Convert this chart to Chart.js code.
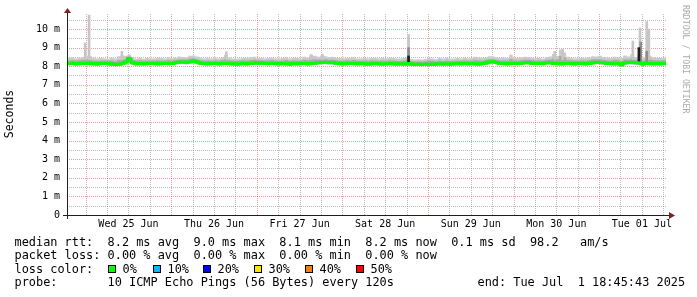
<!DOCTYPE html>
<html>
<head>
<meta charset="utf-8">
<script src="https://cdn.jsdelivr.net/npm/chart.js@4.4.1/dist/chart.umd.min.js"></script>
<style>
    body { margin: 0; background: #fff; }
    #marco { position: relative; width: 697px; height: 297px; font-family: "DejaVu Sans Mono", monospace; color: #000; }
    #grafico { position: absolute; left: 0; top: 0; }
    .linea { position: absolute; left: 14.5px; font-size: 11.9px; line-height: 14px; white-space: pre; }
    .caja { position: absolute; top: 265px; width: 6px; height: 6px; border: 1px solid #000; }
    #firma { position: absolute; left: 681px; top: 5px; writing-mode: vertical-rl; font-size: 8.2px; line-height: 10px; color: #aaa; white-space: pre; }
</style>
</head>
<body>
<div id="marco">
    <canvas id="grafico" width="697" height="297"></canvas>
    <div id="firma">RRDTOOL / TOBI OETIKER</div>
    <div class="linea" style="top:234.6px">median rtt:  8.2 ms avg  9.0 ms max  8.1 ms min  8.2 ms now  0.1 ms sd  98.2   am/s</div>
    <div class="linea" style="top:247.9px">packet loss: 0.00 % avg  0.00 % max  0.00 % min  0.00 % now</div>
    <div class="linea" style="top:261.6px">loss color:</div>
    <div id="perdidas"></div>
    <div class="linea" style="top:275px">probe:       10 ICMP Echo Pings (56 Bytes) every 120s</div>
    <div class="linea" style="top:275px;left:477.5px">end: Tue Jul  1 18:45:43 2025</div>
</div>
<script>
// eje x en horas desde Tue Jun 24 18:45:43 hasta Tue Jul 1 18:45:43 (168 h), una muestra por hora
const PASO = 1;

// mediana (ms)
const mediana = [
    8.14, 8.15, 8.13, 8.14, 8.15, 8.16, 8.15, 8.14, 8.13, 8.14, 8.15, 8.14,
    8.12, 8.09, 8.11, 8.14, 8.22, 8.40, 8.18, 8.13, 8.14, 8.13, 8.14, 8.15,
    8.14, 8.13, 8.14, 8.15, 8.14, 8.15, 8.19, 8.21, 8.22, 8.20, 8.24, 8.28,
    8.22, 8.16, 8.14, 8.13, 8.14, 8.15, 8.13, 8.14, 8.15, 8.14, 8.13, 8.12,
    8.13, 8.14, 8.13, 8.15, 8.17, 8.16, 8.17, 8.15, 8.14, 8.15, 8.14, 8.13,
    8.14, 8.13, 8.12, 8.14, 8.13, 8.14, 8.15, 8.13, 8.14, 8.16, 8.19, 8.20,
    8.21, 8.19, 8.20, 8.16, 8.14, 8.13, 8.14, 8.15, 8.14, 8.13, 8.14, 8.13,
    8.12, 8.13, 8.14, 8.13, 8.12, 8.13, 8.14, 8.13, 8.12, 8.13, 8.12, 8.14,
    8.12, 8.10, 8.11, 8.10, 8.11, 8.12, 8.11, 8.12, 8.13, 8.12, 8.13, 8.12,
    8.13, 8.14, 8.13, 8.14, 8.13, 8.14, 8.13, 8.12, 8.14, 8.17, 8.22, 8.24,
    8.20, 8.15, 8.14, 8.13, 8.14, 8.15, 8.14, 8.16, 8.19, 8.20, 8.16, 8.14,
    8.15, 8.14, 8.18, 8.19, 8.15, 8.14, 8.13, 8.14, 8.15, 8.14, 8.13, 8.15,
    8.14, 8.13, 8.15, 8.19, 8.21, 8.20, 8.18, 8.15, 8.14, 8.13, 8.14, 8.08,
    8.18, 8.20, 8.21, 8.19, 8.17, 8.12, 8.15, 8.14, 8.13, 8.14, 8.13, 8.14, 8.13
];

// humo: ping mas bajo, cuartil alto y ping mas alto de cada hora (ms)
const humoBajo = [
    8.05, 8.06, 8.04, 8.05, 8.06, 8.07, 8.05, 8.04, 8.03, 8.05, 8.06, 8.04,
    8.03, 8.00, 8.02, 8.05, 8.10, 8.20, 8.08, 8.04, 8.05, 8.04, 8.05, 8.06,
    8.05, 8.04, 8.05, 8.06, 8.05, 8.06, 8.10, 8.12, 8.13, 8.11, 8.14, 8.16,
    8.12, 8.07, 8.05, 8.04, 8.05, 8.06, 8.04, 8.05, 8.06, 8.05, 8.04, 8.03,
    8.04, 8.05, 8.04, 8.06, 8.08, 8.07, 8.08, 8.06, 8.05, 8.06, 8.05, 8.04,
    8.05, 8.04, 8.03, 8.05, 8.04, 8.05, 8.06, 8.04, 8.05, 8.07, 8.10, 8.11,
    8.12, 8.10, 8.11, 8.07, 8.05, 8.04, 8.05, 8.06, 8.05, 8.04, 8.05, 8.04,
    8.03, 8.04, 8.05, 8.04, 8.03, 8.04, 8.05, 8.04, 8.03, 8.04, 8.03, 8.02,
    8.02, 8.00, 8.01, 8.00, 8.01, 8.03, 8.02, 8.03, 8.04, 8.03, 8.04, 8.03,
    8.04, 8.05, 8.04, 8.05, 8.04, 8.05, 8.04, 8.03, 8.05, 8.08, 8.12, 8.14,
    8.10, 8.06, 8.05, 8.04, 8.05, 8.06, 8.05, 8.07, 8.10, 8.11, 8.07, 8.05,
    8.06, 8.05, 8.09, 8.10, 8.06, 8.05, 8.04, 8.05, 8.06, 8.05, 8.04, 8.06,
    8.05, 8.04, 8.06, 8.10, 8.12, 8.11, 8.09, 8.06, 8.05, 8.04, 8.05, 7.99,
    8.08, 8.10, 8.11, 8.09, 8.06, 8.03, 8.06, 8.05, 8.04, 8.05, 8.04, 8.05, 8.04
];
const humoMedio = [
    8.31, 8.33, 8.30, 8.32, 8.35, 8.38, 8.35, 8.31, 8.29, 8.31, 8.32, 8.30,
    8.31, 8.27, 8.33, 8.35, 8.39, 8.52, 8.33, 8.30, 8.32, 8.29, 8.31, 8.30,
    8.30, 8.32, 8.31, 8.30, 8.33, 8.31, 8.35, 8.38, 8.37, 8.36, 8.41, 8.43,
    8.38, 8.32, 8.30, 8.31, 8.29, 8.32, 8.30, 8.33, 8.39, 8.32, 8.30, 8.29,
    8.30, 8.32, 8.31, 8.33, 8.35, 8.33, 8.32, 8.31, 8.32, 8.33, 8.30, 8.29,
    8.31, 8.33, 8.29, 8.32, 8.31, 8.30, 8.35, 8.32, 8.41, 8.37, 8.36, 8.38,
    8.37, 8.35, 8.36, 8.33, 8.31, 8.30, 8.32, 8.31, 8.33, 8.30, 8.29, 8.31,
    8.29, 8.32, 8.31, 8.29, 8.30, 8.29, 8.32, 8.31, 8.29, 8.28, 8.31, 8.35,
    8.28, 8.25, 8.27, 8.25, 8.27, 8.31, 8.29, 8.27, 8.30, 8.28, 8.31, 8.28,
    8.29, 8.31, 8.29, 8.32, 8.30, 8.31, 8.35, 8.32, 8.31, 8.34, 8.38, 8.39,
    8.35, 8.31, 8.32, 8.30, 8.39, 8.32, 8.31, 8.33, 8.36, 8.36, 8.33, 8.31,
    8.32, 8.30, 8.35, 8.36, 8.43, 8.37, 8.55, 8.47, 8.33, 8.32, 8.30, 8.31,
    8.32, 8.30, 8.33, 8.37, 8.37, 8.38, 8.35, 8.32, 8.31, 8.35, 8.33, 8.27,
    8.38, 8.36, 8.41, 8.35, 8.39, 8.31, 8.35, 8.37, 8.33, 8.32, 8.31, 8.32, 8.30
];
const humoAlto = [
    8.44, 8.48, 8.42, 8.46, 8.50, 8.56, 8.54, 8.46, 8.42, 8.44, 8.42, 8.40,
    8.46, 8.42, 8.54, 8.58, 8.56, 8.62, 8.44, 8.42, 8.46, 8.40, 8.44, 8.42,
    8.41, 8.46, 8.44, 8.42, 8.48, 8.44, 8.46, 8.52, 8.50, 8.48, 8.56, 8.58,
    8.52, 8.46, 8.42, 8.44, 8.41, 8.46, 8.42, 8.48, 8.62, 8.46, 8.42, 8.40,
    8.42, 8.46, 8.44, 8.48, 8.51, 8.46, 8.44, 8.42, 8.44, 8.46, 8.42, 8.41,
    8.44, 8.48, 8.42, 8.46, 8.44, 8.42, 8.51, 8.46, 8.62, 8.56, 8.51, 8.58,
    8.54, 8.50, 8.51, 8.46, 8.44, 8.42, 8.46, 8.44, 8.48, 8.42, 8.41, 8.44,
    8.42, 8.46, 8.44, 8.41, 8.44, 8.42, 8.46, 8.44, 8.42, 8.41, 8.46, 8.48,
    8.40, 8.36, 8.38, 8.36, 8.39, 8.46, 8.42, 8.38, 8.44, 8.41, 8.46, 8.40,
    8.42, 8.44, 8.41, 8.46, 8.42, 8.44, 8.51, 8.46, 8.44, 8.48, 8.54, 8.52,
    8.48, 8.44, 8.46, 8.44, 8.62, 8.46, 8.44, 8.48, 8.51, 8.50, 8.46, 8.44,
    8.46, 8.42, 8.50, 8.52, 8.66, 8.56, 8.90, 8.74, 8.51, 8.46, 8.42, 8.44,
    8.46, 8.44, 8.48, 8.54, 8.52, 8.56, 8.50, 8.46, 8.44, 8.51, 8.48, 8.46,
    8.58, 8.52, 8.64, 8.50, 8.60, 8.46, 8.52, 8.56, 8.48, 8.46, 8.44, 8.46, 8.42
];

// picos sueltos (hora, base, tope en ms)
const picoHora = [5.1, 6.2, 15.4, 44.7, 68.5, 71.6, 95.8, 136.8, 139.0, 158.7, 160.7, 162.6, 163.2];
const picoBase = [8.35, 8.35, 8.35, 8.35, 8.35, 8.35, 8.2, 8.35, 8.35, 8.35, 8.3, 8.35, 8.35];
const picoTope = [9.25, 10.75, 8.8, 8.78, 8.62, 8.65, 9.7, 8.8, 8.9, 9.35, 10.05, 10.4, 10.0];

const picoMedioHora = [95.8, 160.9, 162.6];
const picoMedioBase = [8.2, 8.2, 8.2];
const picoMedioTope = [9.0, 9.3, 8.8];

const picoOscuroHora = [17.0, 95.8, 160.4];
const picoOscuroBase = [8.2, 8.15, 8.15];
const picoOscuroTope = [8.45, 8.55, 9.0];

// etiquetas del eje x (mediodia de cada dia)
const etiquetasDia = ["Wed 25 Jun", "Thu 26 Jun", "Fri 27 Jun", "Sat 28 Jun", "Sun 29 Jun", "Mon 30 Jun", "Tue 01 Jul"];
const primeraMedianoche = 5.238; // Wed 25 Jun 00:00 en horas desde el inicio

// leyenda de colores de perdida
const porcentajesPerdida = ["0%", "10%", "20%", "30%", "40%", "50%"];
const coloresPerdida = ["#00ff00", "#00b8ff", "#0000ff", "#ffe600", "#ff7f00", "#ff0000"];
const posPerdida = [108, 153, 203, 254, 305, 356];

const FUENTE = "DejaVu Sans Mono";
const MAYOR = "rgba(222,79,79,0.55)";
const MENOR = "rgba(143,143,143,0.6)";

const contPerdidas = document.getElementById("perdidas");
porcentajesPerdida.forEach((p, i) => {
    const caja = document.createElement("div");
    caja.className = "caja";
    caja.style.left = posPerdida[i] + "px";
    caja.style.background = coloresPerdida[i];
    contPerdidas.appendChild(caja);
    const txt = document.createElement("div");
    txt.className = "linea";
    txt.style.top = "261.6px";
    txt.style.left = (posPerdida[i] + 14.5) + "px";
    txt.textContent = p;
    contPerdidas.appendChild(txt);
});

const aPuntos = serie => serie.map((v, i) => ({ x: i * PASO, y: v }));
const aBarras = (horas, base, tope) => horas.map((h, i) => ({ x: h, y: [base[i], tope[i]] }));

// marcas cada 6 horas empezando en la primera medianoche
const marcasX = [];
for (let k = 0; primeraMedianoche + 6 * k <= 168; k++) marcasX.push(primeraMedianoche + 6 * k);
const marcasY = [];
for (let i = 0; i <= 21; i++) marcasY.push(i * 0.5);

function indiceMarca(v) {
    return Math.round((v - primeraMedianoche) / 6);
}

// rejilla punteada (1 px si, 1 px no) como rrdtool
const rejilla = {
    id: "rejilla",
    beforeDatasetsDraw(chart) {
        const { ctx, chartArea: a, scales } = chart;
        ctx.save();
        ctx.lineWidth = 1;
        ctx.setLineDash([1, 1]);
        scales.x.ticks.forEach(t => {
            const px = Math.round(scales.x.getPixelForValue(t.value)) + 0.5;
            ctx.strokeStyle = indiceMarca(t.value) % 4 === 0 ? MAYOR : MENOR;
            ctx.beginPath();
            ctx.moveTo(px, a.bottom);
            ctx.lineTo(px, a.top);
            ctx.stroke();
        });
        scales.y.ticks.forEach(t => {
            if (t.value === 0) return;
            const py = Math.round(scales.y.getPixelForValue(t.value)) + 0.5;
            ctx.strokeStyle = Number.isInteger(t.value) ? MAYOR : MENOR;
            ctx.beginPath();
            ctx.moveTo(a.left, py);
            ctx.lineTo(a.right, py);
            ctx.stroke();
        });
        ctx.restore();
    }
};

// ejes estilo rrdtool con flechas
const ejes = {
    id: "ejes",
    afterDatasetsDraw(chart) {
        const { ctx, chartArea: a } = chart;
        ctx.save();
        ctx.strokeStyle = "#1f1f1f";
        ctx.lineWidth = 1;
        ctx.beginPath();
        ctx.moveTo(a.left - 4, a.bottom + 0.5);
        ctx.lineTo(a.right + 4, a.bottom + 0.5);
        ctx.moveTo(a.left + 0.5, a.bottom + 4);
        ctx.lineTo(a.left + 0.5, a.top - 3);
        ctx.stroke();
        ctx.fillStyle = "#801f1f";
        ctx.beginPath();
        ctx.moveTo(a.right + 3, a.bottom - 3);
        ctx.lineTo(a.right + 9, a.bottom + 0.5);
        ctx.lineTo(a.right + 3, a.bottom + 4);
        ctx.closePath();
        ctx.fill();
        ctx.beginPath();
        ctx.moveTo(a.left - 3, a.top);
        ctx.lineTo(a.left + 0.5, a.top - 5);
        ctx.lineTo(a.left + 4, a.top);
        ctx.closePath();
        ctx.fill();
        ctx.restore();
    }
};

new Chart(document.getElementById("grafico"), {
    type: "line",
    data: {
        datasets: [
            { label: "humo bajo", data: aPuntos(humoBajo), borderColor: "transparent", borderWidth: 0, pointRadius: 0, fill: false, stepped: true, order: 6 },
            { label: "humo alto", data: aPuntos(humoAlto), borderColor: "transparent", borderWidth: 0, backgroundColor: "#cbcbcb", pointRadius: 0, fill: "-1", stepped: true, order: 5 },
            { label: "humo medio", data: aPuntos(humoMedio), borderColor: "transparent", borderWidth: 0, backgroundColor: "#a9a9a9", pointRadius: 0, fill: "-2", stepped: true, order: 4 },
            { type: "bar", label: "picos", data: aBarras(picoHora, picoBase, picoTope), backgroundColor: "#c6c6c6", barThickness: 2, grouped: false, borderWidth: 0, order: 3 },
            { type: "bar", label: "picos medios", data: aBarras(picoMedioHora, picoMedioBase, picoMedioTope), backgroundColor: "#8e8e8e", barThickness: 2, grouped: false, borderWidth: 0, order: 2 },
            { type: "bar", label: "picos oscuros", data: aBarras(picoOscuroHora, picoOscuroBase, picoOscuroTope), backgroundColor: "#1e1e1e", barThickness: 2, grouped: false, borderWidth: 0, order: 1 },
            { label: "median rtt", data: aPuntos(mediana), borderColor: "#00ff00", borderWidth: 3, pointRadius: 0, fill: false, stepped: true, order: 0 }
        ]
    },
    options: {
        responsive: false,
        animation: false,
        devicePixelRatio: 1,
        events: [],
        layout: { padding: { left: 0, right: 31, top: 13, bottom: 62 } },
        plugins: { legend: { display: false }, tooltip: { enabled: false } },
        scales: {
            x: {
                type: "linear",
                min: 0,
                max: 168,
                offset: false,
                afterBuildTicks: eje => { eje.ticks = marcasX.map(v => ({ value: v })); },
                afterFit: eje => { eje.height = 20; },
                grid: { display: false, offset: false, drawTicks: false },
                border: { display: false },
                ticks: {
                    autoSkip: false,
                    maxRotation: 0,
                    minRotation: 0,
                    padding: 3,
                    color: "#000",
                    font: { family: FUENTE, size: 10 },
                    callback: v => {
                        const k = indiceMarca(v);
                        return k % 4 === 2 ? (etiquetasDia[(k - 2) / 4] || "") : "";
                    }
                }
            },
            y: {
                min: 0,
                max: 10.86,
                afterBuildTicks: eje => { eje.ticks = marcasY.map(v => ({ value: v })); },
                afterFit: eje => { eje.width = 67; },
                grid: { display: false, drawTicks: false },
                border: { display: false },
                ticks: {
                    autoSkip: false,
                    padding: 7,
                    color: "#000",
                    font: { family: FUENTE, size: 10 },
                    callback: v => (Number.isInteger(v) ? (v === 0 ? "0" : v + " m") : "")
                },
                title: {
                    display: true,
                    text: "Seconds",
                    color: "#000",
                    font: { family: FUENTE, size: 11.5 },
                    padding: { top: 3, bottom: 0 }
                }
            }
        }
    },
    plugins: [rejilla, ejes]
});
</script>
</body>
</html>
